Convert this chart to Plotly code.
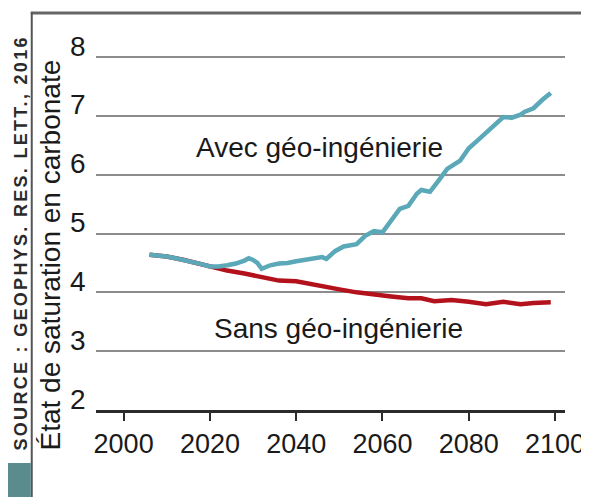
import plotly.graph_objects as go

# Avec géo-ingénierie (courbe bleu-vert)
years_avec = [2006, 2008, 2010, 2012, 2014, 2016, 2018, 2020, 2022, 2024, 2026, 2028,
              2029, 2030, 2031, 2032, 2033, 2034, 2036, 2038, 2040, 2042, 2044, 2046,
              2047, 2049, 2051, 2054, 2056, 2058, 2060, 2062, 2064, 2066, 2068, 2069,
              2071, 2073, 2075, 2078, 2080, 2082, 2085, 2088, 2090, 2092, 2093, 2095,
              2097, 2099]
values_avec = [4.64, 4.63, 4.61, 4.58, 4.55, 4.52, 4.48, 4.44, 4.44, 4.46, 4.49, 4.54,
               4.58, 4.55, 4.50, 4.40, 4.44, 4.46, 4.49, 4.50, 4.53, 4.55, 4.58, 4.60,
               4.57, 4.70, 4.78, 4.82, 4.96, 5.04, 5.02, 5.22, 5.42, 5.47, 5.68, 5.74,
               5.71, 5.90, 6.10, 6.24, 6.45, 6.58, 6.78, 6.98, 6.97, 7.02, 7.07, 7.13,
               7.27, 7.39]

# Sans géo-ingénierie (courbe rouge)
years_sans = [2006, 2010, 2014, 2018, 2020, 2022, 2024, 2028, 2032, 2036, 2040, 2044,
              2046, 2050, 2054, 2058, 2062, 2066, 2069, 2072, 2076, 2080, 2084, 2088,
              2092, 2095, 2099]
values_sans = [4.64, 4.61, 4.55, 4.48, 4.44, 4.41, 4.37, 4.32, 4.26, 4.20, 4.19, 4.13,
               4.10, 4.05, 4.00, 3.96, 3.93, 3.90, 3.90, 3.85, 3.87, 3.84, 3.80, 3.84,
               3.80, 3.82, 3.83]

x_ticks = [2000, 2020, 2040, 2060, 2080, 2100]
y_ticks = [2, 3, 4, 5, 6, 7, 8]

FONT = "Liberation Sans, Arial, sans-serif"
TEAL = "#5aa8b8"
RED = "#b3121c"
GRID = "#8c8c8c"
INK = "#1a1a1a"

fig = go.Figure()
fig.add_trace(go.Scatter(
    x=years_sans, y=values_sans, mode="lines",
    line=dict(color=RED, width=4.5),
    hoverinfo="skip",
))
fig.add_trace(go.Scatter(
    x=years_avec, y=values_avec, mode="lines",
    line=dict(color=TEAL, width=4.5),
    hoverinfo="skip",
))

# étiquettes de l'axe y posées au-dessus des lignes de grille
for v in y_ticks:
    fig.add_annotation(xref="paper", yref="y", x=-0.016, y=v, text=str(v),
                       xanchor="right", yanchor="middle", yshift=11, showarrow=False,
                       font=dict(size=28, color=INK, family=FONT))

# textes sur le graphique
fig.add_annotation(x=2045.4, y=6.46, text="Avec géo-ingénierie", showarrow=False,
                   font=dict(size=28, color=INK, family=FONT))
fig.add_annotation(x=2049.8, y=3.39, text="Sans géo-ingénierie", showarrow=False,
                   font=dict(size=28, color=INK, family=FONT))

# titre de l'axe y, décalé vers le bas comme dans l'original
fig.add_annotation(xref="paper", yref="paper", x=-0.097, y=0.419,
                   xanchor="center", yanchor="middle",
                   text="État de saturation en carbonate", textangle=-90, showarrow=False,
                   font=dict(size=28, color=INK, family=FONT))
# source
fig.add_annotation(xref="paper", yref="paper", x=-0.162, y=0.45,
                   xanchor="center", yanchor="middle",
                   text='<span style="letter-spacing:2.3px">SOURCE : GEOPHYS. RES. LETT., 2016</span>',
                   textangle=-90, showarrow=False,
                   font=dict(size=18, color="#2b2b2b", family=FONT, weight="bold"))

# cadre: trait du haut, trait vertical gauche, pavé bleu-vert
fig.add_shape(type="line", xref="paper", yref="paper", x0=-0.139, x1=1.1, y0=1.073, y1=1.073,
              line=dict(color="#666666", width=3))
fig.add_shape(type="line", xref="paper", yref="paper", x0=-0.137, x1=-0.137, y0=1.075, y1=-0.3,
              line=dict(color="#555555", width=2))
fig.add_shape(type="rect", xref="paper", yref="paper", x0=-0.25, x1=-0.139, y0=-0.143, y1=-0.3,
              line=dict(width=0), fillcolor="#5a8c8e")

# la page ajoute une marge de 8 px : tout est décalé de 8 px vers le haut et la gauche
fig.update_layout(
    width=589, height=497,
    paper_bgcolor="white", plot_bgcolor="white",
    margin=dict(l=88, r=27, t=32, b=95),
    showlegend=False,
    font=dict(family=FONT, color=INK),
    xaxis=dict(
        range=[1993.6, 2102.3], tickvals=x_ticks, showgrid=False, zeroline=False,
        showline=True, linecolor="#2b2b2b", linewidth=3,
        ticks="outside", ticklen=8, tickwidth=2, tickcolor="#2b2b2b",
        tickfont=dict(size=27, color=INK, family=FONT),
        ticklabeloverflow="allow",
        fixedrange=True,
    ),
    yaxis=dict(
        range=[2, 8.29], tickvals=y_ticks, showgrid=True, gridcolor=GRID, gridwidth=2,
        zeroline=False, showline=False, ticks="", showticklabels=False,
        fixedrange=True,
    ),
)

fig.write_html("out.html", config={"displayModeBar": False})
